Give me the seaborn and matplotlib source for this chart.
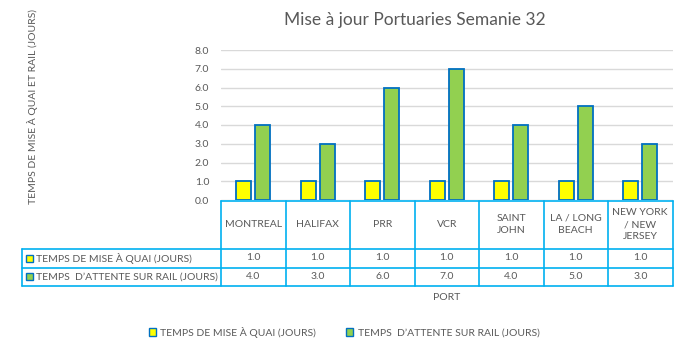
import seaborn as sns
from matplotlib import pyplot as plt
from matplotlib import transforms
from matplotlib.patches import Rectangle, Patch
import pandas as pd

ports = ['MONTREAL', 'HALIFAX', 'PRR', 'VCR', 'SAINT\nJOHN', 'LA / LONG\nBEACH', 'NEW YORK\n/ NEW\nJERSEY']
quai = [1.0, 1.0, 1.0, 1.0, 1.0, 1.0, 1.0]
rail = [4.0, 3.0, 6.0, 7.0, 4.0, 5.0, 3.0]
series = ['TEMPS DE MISE À QUAI (JOURS)', 'TEMPS  D\u2019ATTENTE SUR RAIL (JOURS)']
colors = ['#FFFF00', '#92D050']
yticks = [0, 1, 2, 3, 4, 5, 6, 7, 8]

edge = '#0070C0'
line_c = '#00B0F0'
txt_c = '#595959'
fs = 7.5

sns.set_theme(style="white")
plt.rcParams['font.family'] = ['Lato', 'DejaVu Sans']

df = pd.DataFrame({
    'port': ports * 2,
    'value': quai + rail,
    'serie': [series[0]] * len(ports) + [series[1]] * len(ports),
})

W, H = 686, 352
fig = plt.figure(figsize=(W / 100, H / 100), dpi=100)
fig.patch.set_facecolor('white')

# plot area in pixels
px0, px1, py_top, py_bot = 221, 672.5, 50, 200
ax = fig.add_axes([px0 / W, 1 - py_bot / H, (px1 - px0) / W, (py_bot - py_top) / H])
sns.barplot(data=df, x='port', y='value', hue='serie', palette=colors, ax=ax, saturation=1,
            width=0.58, gap=0.2, edgecolor=edge, linewidth=1.3, legend=False, zorder=3)
ax.set_ylim(0, 8)
ax.set_xlim(-0.5, len(ports) - 0.5)
ax.set_yticks(yticks)
ax.set_yticklabels(['%.1f' % v for v in yticks], fontsize=fs, color=txt_c)
ax.set_xticks([])
ax.set_xlabel('')
ax.set_ylabel('')
ax.tick_params(axis='y', length=0, pad=8.5)
ax.grid(axis='y', color='#D9D9D9', linewidth=1, zorder=0)
for s in ax.spines.values():
    s.set_visible(False)

# overlay in pixel coordinates for the data table
ov = fig.add_axes([0, 0, 1, 1], zorder=-1)
ov.set_xlim(0, W)
ov.set_ylim(H, 0)
ov.axis('off')
tr = transforms.blended_transform_factory(ax.transData, ov.transData)

r0, r1, r2, r3 = 200.5, 248.5, 267.5, 286
left = 21.5
n = len(ports)
# horizontal lines
ov.plot([-0.5, n - 0.5], [r0, r0], color=line_c, lw=1.2, transform=tr)
for y in (r1, r2, r3):
    ov.plot([left, px1], [y, y], color=line_c, lw=1.2)
ov.plot([left, left], [r1, r3], color=line_c, lw=1.2)
for i in range(n + 1):
    ov.plot([i - 0.5, i - 0.5], [r0, r3], color=line_c, lw=1.2, transform=tr)

for i, p in enumerate(ports):
    ov.text(i, (r0 + r1) / 2, p, transform=tr, ha='center', va='center',
            fontsize=fs, color=txt_c, linespacing=1.45)
    ov.text(i, (r1 + r2) / 2, '%.1f' % quai[i], transform=tr, ha='center', va='center',
            fontsize=fs, color=txt_c)
    ov.text(i, (r2 + r3) / 2, '%.1f' % rail[i], transform=tr, ha='center', va='center',
            fontsize=fs, color=txt_c)

for k, (yc, lab) in enumerate([((r1 + r2) / 2, series[0]), ((r2 + r3) / 2, series[1])]):
    ov.add_patch(Rectangle((25.5, yc - 3.5), 7, 7, facecolor=colors[k], edgecolor=edge, lw=1))
    ov.text(36, yc, lab, ha='left', va='center', fontsize=fs, color=txt_c)

fig.text(414.5 / W, 1 - 20 / H, 'Mise à jour Portuaries Semanie 32', ha='center', va='center',
         fontsize=12.5, color=txt_c)
fig.text(33 / W, 1 - 106 / H, 'TEMPS DE MISE À QUAI ET RAIL (JOURS)', rotation=90,
         ha='center', va='center', fontsize=fs, color=txt_c)
fig.text(447 / W, 1 - 297 / H, 'PORT', ha='center', va='center', fontsize=fs, color=txt_c)

handles = [Patch(facecolor=colors[k], edgecolor=edge, linewidth=1) for k in range(2)]
fig.legend(handles, series, loc='center', bbox_to_anchor=(344 / W, 1 - 332 / H), ncol=2,
           frameon=False, fontsize=fs, handlelength=0.7, handleheight=0.7,
           handletextpad=0.4, columnspacing=2.9, labelcolor=txt_c)

plt.savefig('out.png', dpi=100)
